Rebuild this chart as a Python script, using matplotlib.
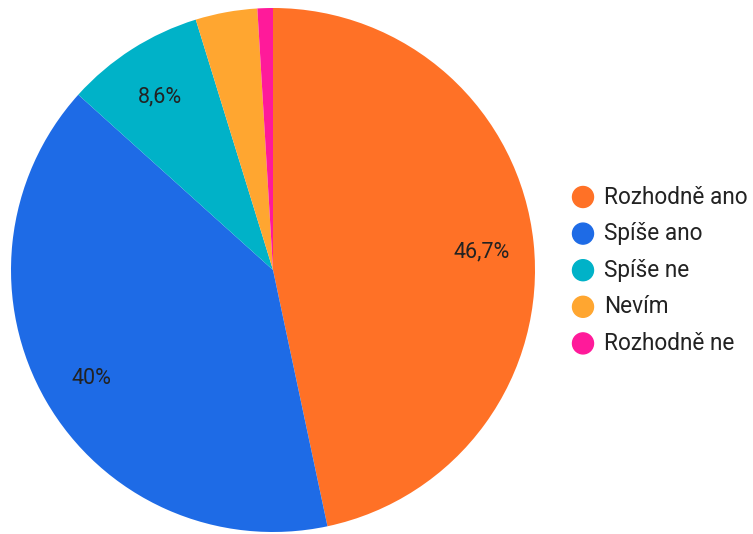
import matplotlib.pyplot as plt
from matplotlib.patches import Circle

plt.rcParams["font.family"] = ["Roboto", "DejaVu Sans"]

labels = ["Rozhodně ano", "Spíše ano", "Spíše ne", "Nevím", "Rozhodně ne"]
counts = [49, 42, 9, 4, 1]
colors = ["#FF7126", "#1E6BE6", "#00B2C8", "#FFA630", "#FF1A9A"]

W, H = 753, 534
fig = plt.figure(figsize=(W / 100, H / 100), dpi=100)

# pie center ~ (273, 270) px, radius ~262 px
cx, cy, r = 273, 270, 262
ax = fig.add_axes([(cx - r) / W, (H - cy - r) / H, 2 * r / W, 2 * r / H])


def fmt(p):
    if p < 5:
        return ""
    s = f"{p:.1f}"
    if s.endswith(".0"):
        s = s[:-2]
    return s.replace(".", ",") + "%"


wedges, texts, autotexts = ax.pie(
    counts, colors=colors, startangle=90, counterclock=False,
    autopct=fmt, pctdistance=0.8, radius=1.0,
    wedgeprops=dict(linewidth=0),
    textprops=dict(fontsize=15.5, color="#222222"),
)
for t in autotexts:
    x, y = t.get_position()
    t.set_position((x, y - 0.015))
ax.set_xlim(-1, 1)
ax.set_ylim(-1, 1)
ax.set_aspect("equal")
ax.axis("off")

# legend drawn by hand
y0, dy = 197, 36.6
for i, (lab, col) in enumerate(zip(labels, colors)):
    y = y0 + i * dy
    fig.patches.append(Circle((583, H - y), 10.5, color=col,
                              transform=None, figure=fig))
    fig.text(604 / W, (H - y) / H, lab, fontsize=16.3, color="#222222",
             va="center", ha="left")

fig.savefig("out.png", dpi=100)
